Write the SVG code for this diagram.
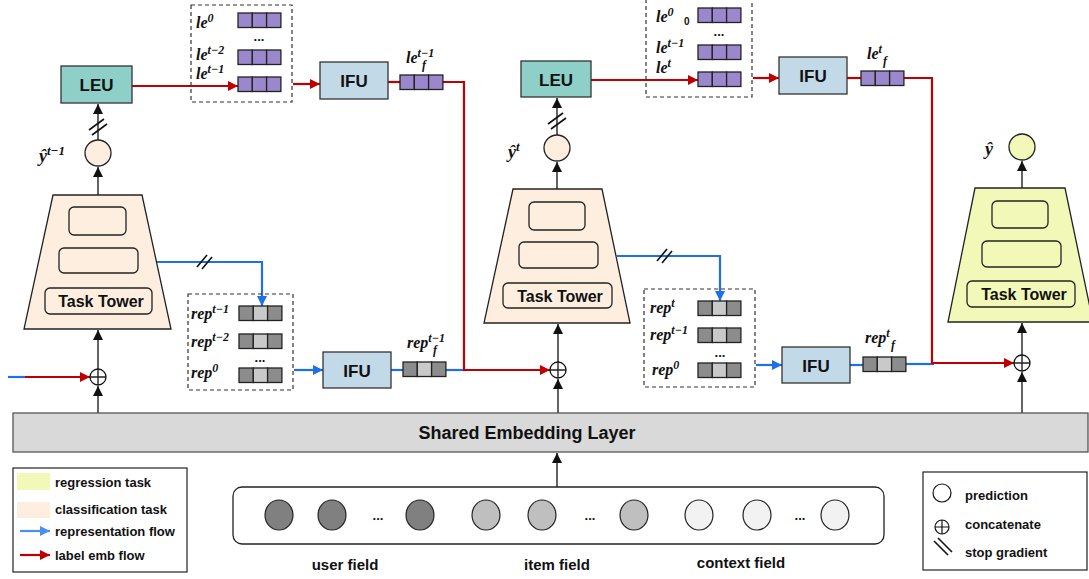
<svg xmlns="http://www.w3.org/2000/svg" width="1089" height="579" viewBox="0 0 1089 579">
<style>
.sans{font-family:"Liberation Sans",Arial,sans-serif;font-weight:700;fill:#111}
.math{font-family:"Liberation Serif","Times New Roman",serif;font-weight:700;font-style:italic;fill:#111}
.leu{fill:#8ecfc8;stroke:#333;stroke-width:1.3}
.ifu{fill:#c2d9e8;stroke:#333;stroke-width:1.3}
.cls{fill:#fdeedf;stroke:#222;stroke-width:1.3}
.reg{fill:#f2f8b8;stroke:#222;stroke-width:1.3}
.inner{fill:none;stroke:#222;stroke-width:1.3}
.dash{fill:none;stroke:#333;stroke-width:1.2;stroke-dasharray:4 3}
.pur{fill:#9b87cc;stroke:#222;stroke-width:1.3}
.gd{fill:#8c8c8c;stroke:#222;stroke-width:1.3}
.gl{fill:#c9c9c9;stroke:#222;stroke-width:1.3}
.blk{stroke:#222;stroke-width:1.4;fill:none}
.red{stroke:#c00000;stroke-width:2.2;fill:none}
.blue{stroke:#1f6fe8;stroke-width:2.2;fill:none}
.sg{stroke:#111;stroke-width:1.6}
.cc{fill:#fff;stroke:#111;stroke-width:1.3}
</style>
<defs>
<marker id="ab" viewBox="0 0 10 10" refX="10" refY="5" markerWidth="10" markerHeight="10" markerUnits="userSpaceOnUse" orient="auto"><path d="M0,0 L10,5 L0,10 z" fill="#111"/></marker>
<marker id="arRed" viewBox="0 0 10 10" refX="10" refY="5" markerWidth="12" markerHeight="10" markerUnits="userSpaceOnUse" orient="auto"><path d="M0,0 L10,5 L0,10 z" fill="#c00000"/></marker>
<marker id="abl" viewBox="0 0 10 10" refX="10" refY="5" markerWidth="12" markerHeight="10" markerUnits="userSpaceOnUse" orient="auto"><path d="M0,0 L10,5 L0,10 z" fill="#1f6fe8"/></marker>
<marker id="ablL" viewBox="0 0 10 10" refX="10" refY="5" markerWidth="12" markerHeight="10" markerUnits="userSpaceOnUse" orient="auto"><path d="M0,0 L10,5 L0,10 z" fill="#4a8ff0"/></marker>
<g id="lesbar"><rect class="pur" x="0" y="0" width="14.3" height="14.5"/><rect class="pur" x="14.3" y="0" width="14.3" height="14.5"/><rect class="pur" x="28.6" y="0" width="14.3" height="14.5"/></g>
<g id="repbar"><rect class="gd" x="0" y="0" width="14.3" height="14.5"/><rect class="gl" x="14.3" y="0" width="14.3" height="14.5"/><rect class="gd" x="28.6" y="0" width="14.3" height="14.5"/></g>
</defs>

<!-- Task towers -->
<g id="tower1">
<path class="cls" d="M53,195 L142,195 L171,329 L24,329 Z"/>
<rect class="inner" x="69" y="207" width="57" height="28" rx="5"/>
<rect class="inner" x="59" y="248" width="79" height="25" rx="5"/>
<rect class="inner" x="45" y="288" width="107" height="26" rx="5"/>
<text class="sans" x="101" y="307" font-size="16" text-anchor="middle">Task Tower</text>
</g>
<g id="tower2">
<path class="cls" d="M513,189 L602,189 L630,323 L484,323 Z"/>
<rect class="inner" x="529" y="202" width="56" height="28" rx="5"/>
<rect class="inner" x="519" y="242" width="79" height="26" rx="5"/>
<rect class="inner" x="503" y="283" width="109" height="25" rx="5"/>
<text class="sans" x="560" y="301.5" font-size="16" text-anchor="middle">Task Tower</text>
</g>
<g id="tower3">
<path class="reg" d="M975,188 L1065,188 L1093,322 L948,322 Z"/>
<rect class="inner" x="992" y="201" width="56" height="27" rx="5"/>
<rect class="inner" x="982" y="241" width="79" height="26" rx="5"/>
<rect class="inner" x="967" y="281" width="108" height="26" rx="5"/>
<text class="sans" x="1024" y="299.5" font-size="16" text-anchor="middle">Task Tower</text>
</g>

<!-- connectors -->
<g id="connectors">
<line class="blk" x1="98" y1="195" x2="98" y2="167" marker-end="url(#ab)"/>
<line class="blk" x1="98" y1="140" x2="98" y2="104" marker-end="url(#ab)"/>
<line class="blk" x1="557" y1="189" x2="557" y2="162" marker-end="url(#ab)"/>
<line class="blk" x1="557" y1="135" x2="557" y2="98" marker-end="url(#ab)"/>
<line class="blk" x1="1022" y1="188" x2="1022" y2="161" marker-end="url(#ab)"/>
<line class="blk" x1="98" y1="413" x2="98" y2="386" marker-end="url(#ab)"/>
<line class="blk" x1="98" y1="369" x2="98" y2="330" marker-end="url(#ab)"/>
<line class="blk" x1="558" y1="413" x2="558" y2="379" marker-end="url(#ab)"/>
<line class="blk" x1="558" y1="362" x2="558" y2="324" marker-end="url(#ab)"/>
<line class="blk" x1="1022" y1="413" x2="1022" y2="372" marker-end="url(#ab)"/>
<line class="blk" x1="1022" y1="355" x2="1022" y2="323" marker-end="url(#ab)"/>
<line class="blk" x1="557" y1="487" x2="557" y2="453" marker-end="url(#ab)"/>
<!-- stop gradients on prediction->LEU -->
<line class="sg" x1="89" y1="130" x2="104" y2="119"/><line class="sg" x1="92" y1="135" x2="107" y2="124"/>
<line class="sg" x1="548" y1="124" x2="563" y2="113"/><line class="sg" x1="551" y1="129" x2="566" y2="118"/>
<!-- label emb (red) -->
<line class="red" x1="132" y1="86" x2="238" y2="86" marker-end="url(#arRed)"/>
<line class="red" x1="293" y1="84" x2="320" y2="84" marker-end="url(#arRed)"/>
<line class="red" x1="388" y1="82" x2="400" y2="82"/>
<line class="red" x1="591" y1="80" x2="698" y2="80" marker-end="url(#arRed)"/>
<line class="red" x1="753" y1="78" x2="779" y2="78" marker-end="url(#arRed)"/>
<line class="red" x1="847" y1="78" x2="861" y2="78"/>
<!-- representation (blue) -->
<path class="blue" d="M157,262 H262 V306" marker-end="url(#abl)"/>
<path class="blue" d="M616,256 H720 V301" marker-end="url(#abl)"/>
<line class="sg" x1="197" y1="267" x2="207" y2="255"/><line class="sg" x1="202" y1="269" x2="212" y2="257"/>
<line class="sg" x1="657" y1="261" x2="667" y2="249"/><line class="sg" x1="662" y1="263" x2="672" y2="251"/>
<line class="blue" x1="294" y1="370" x2="323" y2="370" marker-end="url(#abl)"/>
<line class="blue" x1="391" y1="370" x2="403" y2="370"/>
<line class="blue" x1="446" y1="370" x2="466" y2="370"/>
<line class="blue" x1="756" y1="365" x2="782" y2="365" marker-end="url(#abl)"/>
<line class="blue" x1="850" y1="365" x2="863" y2="365"/>
<line class="blue" x1="906" y1="364" x2="934" y2="364"/>
<line class="blue" x1="8" y1="377" x2="26" y2="377"/>
<line class="red" x1="25" y1="377" x2="90" y2="377" marker-end="url(#arRed)"/>
<path class="red" d="M442,82 H464 V370 H550" marker-end="url(#arRed)"/>
<path class="red" d="M903,78 H932 V363 H1014" marker-end="url(#arRed)"/>
</g>

<!-- predictions -->
<g id="pred1"><circle cx="98" cy="153" r="13" fill="#fdeedf" stroke="#222" stroke-width="1.3"/>
<text class="math" x="39" y="162" font-size="18">ŷ<tspan dy="-7" font-size="13">t−1</tspan></text></g>
<g id="pred2"><circle cx="557" cy="148" r="13" fill="#fdeedf" stroke="#222" stroke-width="1.3"/>
<text class="math" x="508" y="158" font-size="18">ŷ<tspan dy="-7" font-size="13">t</tspan></text></g>
<g id="pred3"><circle cx="1022" cy="147" r="13" fill="#f2f8b8" stroke="#222" stroke-width="1.3"/>
<text class="math" x="985" y="155" font-size="18">ŷ</text></g>

<!-- concatenates -->
<g id="concat1"><circle class="cc" cx="98" cy="377" r="8"/><path class="blk" d="M90,377 H106 M98,369 V385"/></g>
<g id="concat2"><circle class="cc" cx="558" cy="370" r="8"/><path class="blk" d="M550,370 H566 M558,362 V378"/></g>
<g id="concat3"><circle class="cc" cx="1022" cy="363" r="8"/><path class="blk" d="M1014,363 H1030 M1022,355 V371"/></g>

<!-- LEU -->
<g id="leu1"><rect class="leu" x="61" y="66" width="71" height="37"/><text class="sans" x="96.5" y="91" font-size="17" text-anchor="middle">LEU</text></g>
<g id="leu2"><rect class="leu" x="521" y="61" width="70" height="36"/><text class="sans" x="556" y="85.5" font-size="17" text-anchor="middle">LEU</text></g>

<!-- IFU -->
<g id="ifu1"><rect class="ifu" x="320" y="62" width="68" height="37"/><text class="sans" x="354" y="87" font-size="17" text-anchor="middle">IFU</text></g>
<g id="ifu2"><rect class="ifu" x="779" y="57" width="68" height="37"/><text class="sans" x="813" y="82" font-size="17" text-anchor="middle">IFU</text></g>
<g id="ifu3"><rect class="ifu" x="323" y="352" width="68" height="36"/><text class="sans" x="357" y="376.5" font-size="17" text-anchor="middle">IFU</text></g>
<g id="ifu4"><rect class="ifu" x="782" y="347" width="68" height="36"/><text class="sans" x="816" y="371.5" font-size="17" text-anchor="middle">IFU</text></g>

<!-- label emb stacks -->
<g id="lestack1">
<rect class="dash" x="191" y="5" width="101" height="97"/>
<use href="#lesbar" x="238" y="13"/>
<use href="#lesbar" x="238" y="50"/>
<use href="#lesbar" x="238" y="77"/>
<text class="sans" x="259" y="41" font-size="13" text-anchor="middle">...</text>
<text class="math" x="196" y="28" font-size="16">le<tspan dy="-6" font-size="12">0</tspan></text>
<text class="math" x="196" y="60" font-size="16">le<tspan dy="-6" font-size="12">t−2</tspan></text>
<text class="math" x="196" y="79" font-size="16">le<tspan dy="-6" font-size="12">t−1</tspan></text>
</g>
<g id="lestack2">
<rect class="dash" x="646" y="-3" width="106" height="100"/>
<use href="#lesbar" x="698" y="8"/>
<use href="#lesbar" x="698" y="45"/>
<use href="#lesbar" x="698" y="72"/>
<text class="sans" x="719" y="36" font-size="13" text-anchor="middle">...</text>
<text class="math" x="656" y="22" font-size="16">le<tspan dy="-6" font-size="12">0</tspan></text>
<text class="sans" x="684" y="25" font-size="10">0</text>
<text class="math" x="656" y="53" font-size="16">le<tspan dy="-6" font-size="12">t−1</tspan></text>
<text class="math" x="656" y="73" font-size="16">le<tspan dy="-6" font-size="12">t</tspan></text>
</g>
<g id="lef1">
<use href="#lesbar" x="400" y="75"/>
<text class="math" x="406" y="63" font-size="16">le<tspan dy="-6" font-size="12">t−1</tspan></text>
<text class="math" x="422" y="69" font-size="12">f</text>
</g>
<g id="lef2">
<use href="#lesbar" x="861" y="71"/>
<text class="math" x="867" y="59" font-size="16">le<tspan dy="-6" font-size="12">t</tspan></text>
<text class="math" x="883" y="65" font-size="12">f</text>
</g>

<!-- representation stacks -->
<g id="repstack1">
<rect class="dash" x="188" y="294" width="105" height="96"/>
<use href="#repbar" x="239" y="306"/>
<use href="#repbar" x="239" y="334"/>
<use href="#repbar" x="239" y="368"/>
<text class="sans" x="260" y="362" font-size="13" text-anchor="middle">...</text>
<text class="math" x="191" y="319" font-size="16">rep<tspan dy="-6" font-size="12">t−1</tspan></text>
<text class="math" x="191" y="347" font-size="16">rep<tspan dy="-6" font-size="12">t−2</tspan></text>
<text class="math" x="191" y="378" font-size="16">rep<tspan dy="-6" font-size="12">0</tspan></text>
</g>
<g id="repstack2">
<rect class="dash" x="644" y="289" width="111" height="98"/>
<use href="#repbar" x="698" y="301"/>
<use href="#repbar" x="698" y="328"/>
<use href="#repbar" x="698" y="363"/>
<text class="sans" x="720" y="357" font-size="13" text-anchor="middle">...</text>
<text class="math" x="650" y="313" font-size="16">rep<tspan dy="-6" font-size="12">t</tspan></text>
<text class="math" x="650" y="340" font-size="16">rep<tspan dy="-6" font-size="12">t−1</tspan></text>
<text class="math" x="652" y="375" font-size="16">rep<tspan dy="-6" font-size="12">0</tspan></text>
</g>
<g id="repf1">
<use href="#repbar" x="403" y="362"/>
<text class="math" x="407" y="348" font-size="16">rep<tspan dy="-6" font-size="12">t−1</tspan></text>
<text class="math" x="433" y="354" font-size="12">f</text>
</g>
<g id="repf2">
<use href="#repbar" x="863" y="357"/>
<text class="math" x="865" y="343" font-size="16">rep<tspan dy="-6" font-size="12">t</tspan></text>
<text class="math" x="891" y="349" font-size="12">f</text>
</g>

<!-- shared embedding -->
<g id="embedding">
<rect x="13" y="413" width="1075" height="39" fill="#d9d9d9" stroke="#555" stroke-width="1.3"/>
<text class="sans" x="527" y="439" font-size="18" text-anchor="middle">Shared Embedding Layer</text>
</g>

<!-- input fields -->
<g id="fields">
<rect x="233" y="487" width="651" height="57" rx="9" fill="#fff" stroke="#222" stroke-width="1.3"/>
<ellipse cx="279" cy="515" rx="14" ry="15" fill="#808080" stroke="#222" stroke-width="1.2"/>
<ellipse cx="332" cy="515" rx="14" ry="15" fill="#808080" stroke="#222" stroke-width="1.2"/>
<ellipse cx="420" cy="515" rx="14" ry="15" fill="#808080" stroke="#222" stroke-width="1.2"/>
<ellipse cx="486" cy="515" rx="14" ry="15" fill="#bfbfbf" stroke="#222" stroke-width="1.2"/>
<ellipse cx="542" cy="515" rx="14" ry="15" fill="#bfbfbf" stroke="#222" stroke-width="1.2"/>
<ellipse cx="634" cy="515" rx="14" ry="15" fill="#bfbfbf" stroke="#222" stroke-width="1.2"/>
<ellipse cx="699" cy="515" rx="14" ry="15" fill="#f2f2f2" stroke="#222" stroke-width="1.2"/>
<ellipse cx="757" cy="515" rx="14" ry="15" fill="#f2f2f2" stroke="#222" stroke-width="1.2"/>
<ellipse cx="835" cy="515" rx="14" ry="15" fill="#f2f2f2" stroke="#222" stroke-width="1.2"/>
<text class="sans" x="378" y="520" font-size="13" text-anchor="middle">...</text>
<text class="sans" x="590" y="520" font-size="13" text-anchor="middle">...</text>
<text class="sans" x="800" y="520" font-size="13" text-anchor="middle">...</text>
<text class="sans" x="345" y="570" font-size="15" text-anchor="middle">user field</text>
<text class="sans" x="557" y="570" font-size="15" text-anchor="middle">item field</text>
<text class="sans" x="741" y="568" font-size="15" text-anchor="middle">context field</text>
</g>

<!-- legends -->
<g id="legend-left">
<rect x="13" y="468" width="174" height="104" fill="#fff" stroke="#222" stroke-width="1.2"/>
<rect x="17" y="473" width="33" height="17" fill="#f2f8b8"/>
<rect x="17" y="502" width="33" height="16" fill="#fdeedf"/>
<line x1="20" y1="531" x2="50" y2="531" stroke="#4a8ff0" stroke-width="2.2" marker-end="url(#ablL)"/>
<line x1="20" y1="555" x2="50" y2="555" stroke="#c00000" stroke-width="2.2" marker-end="url(#arRed)"/>
<text class="sans" x="55" y="487" font-size="13">regression task</text>
<text class="sans" x="55" y="514" font-size="13">classification task</text>
<text class="sans" x="55" y="536" font-size="13">representation flow</text>
<text class="sans" x="55" y="560" font-size="13">label emb flow</text>
</g>
<g id="legend-right">
<rect x="923" y="472" width="164" height="98" fill="#fff" stroke="#222" stroke-width="1.2"/>
<circle cx="942" cy="493" r="9" fill="#fff" stroke="#111" stroke-width="1.2"/>
<circle cx="942" cy="527" r="7" fill="#fff" stroke="#111" stroke-width="1.2"/>
<path d="M935,527 H949 M942,520 V534" stroke="#111" stroke-width="1.2"/>
<line class="sg" x1="934" y1="541" x2="948" y2="555"/><line class="sg" x1="938" y1="538" x2="952" y2="552"/>
<text class="sans" x="965" y="500" font-size="13">prediction</text>
<text class="sans" x="965" y="529" font-size="13">concatenate</text>
<text class="sans" x="965" y="557" font-size="13">stop gradient</text>
</g>
</svg>
